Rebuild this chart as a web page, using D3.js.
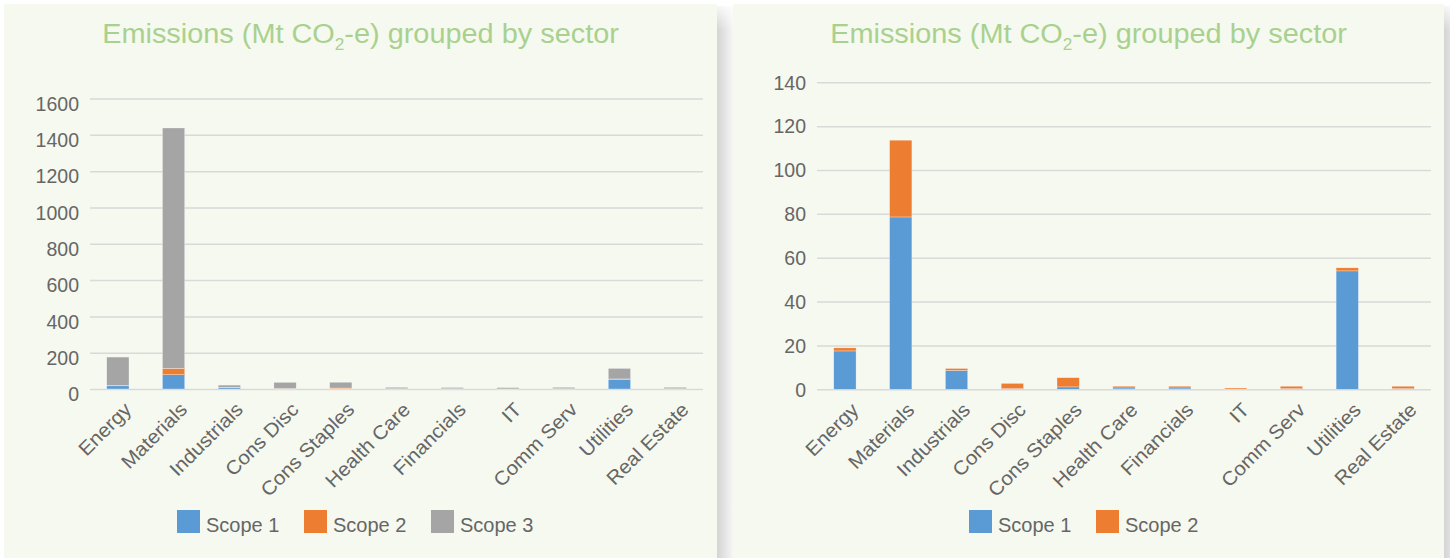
<!DOCTYPE html>
<html>
<head>
<meta charset="utf-8">
<script src="https://cdn.jsdelivr.net/npm/d3@7"></script>
<style>
  html, body { margin: 0; padding: 0; background: #ffffff; }
  svg { display: block; }
  text { font-family: "Liberation Sans", Arial, Helvetica, sans-serif; }
</style>
</head>
<body>
<svg id="chart" width="1450" height="558"></svg>
<script>
// ---------- DATA ----------
const sectors = ["Energy", "Materials", "Industrials", "Cons Disc", "Cons Staples", "Health Care", "Financials", "IT", "Comm Serv", "Utilities", "Real Estate"];
const scope1 = [17.5, 78.6, 8.6, 0.3, 1.1, 0.6, 0.6, 0.1, 0.3, 54, 0.3];
const scope2 = [1.4, 35, 0.9, 2.4, 4.2, 0.8, 0.8, 0.5, 1.1, 1.4, 1.1];
const scope3 = [157, 1324, 12, 34, 32, 8, 7, 7, 8, 58, 8];
const leftTicks = [0, 200, 400, 600, 800, 1000, 1200, 1400, 1600];
const rightTicks = [0, 20, 40, 60, 80, 100, 120, 140];
const seriesNames = ["Scope 1", "Scope 2", "Scope 3"];
const seriesColors = ["#5b9bd5", "#ed7d31", "#a5a5a5"];

// ---------- SETUP ----------
const svg = d3.select("#chart");
const panelFill = "#f6f9ef";
const textGray = "#666666";
const gridColor = "#d9d9d9";
const titleColor = "#a9d18e";

const defs = svg.append("defs");
const g1 = defs.append("linearGradient").attr("id", "shadowGrad").attr("x1", 0).attr("x2", 1).attr("y1", 0).attr("y2", 0);
g1.append("stop").attr("offset", "0%").attr("stop-color", "#d4d4d4");
g1.append("stop").attr("offset", "55%").attr("stop-color", "#e6e6e6");
g1.append("stop").attr("offset", "100%").attr("stop-color", "#f6f6f6");
const g2 = defs.append("linearGradient").attr("id", "shadowTop").attr("x1", 0).attr("x2", 0).attr("y1", 0).attr("y2", 1);
g2.append("stop").attr("offset", "0%").attr("stop-color", "#ffffff").attr("stop-opacity", 1);
g2.append("stop").attr("offset", "100%").attr("stop-color", "#ffffff").attr("stop-opacity", 0);

function drawPanel(x0, x1) {
  svg.append("rect").attr("x", x1).attr("y", 6).attr("width", 16).attr("height", 552).attr("fill", "url(#shadowGrad)");
  svg.append("rect").attr("x", x1).attr("y", 0).attr("width", 16).attr("height", 30).attr("fill", "url(#shadowTop)");
  svg.append("rect").attr("x", x0).attr("y", 4).attr("width", x1 - x0).attr("height", 554).attr("fill", panelFill);
}

function drawChart(opts) {
  const { x0, x1, plotL, plotR, yTop, yBottom, ticks, series, legendStart, labelShift } = opts;
  drawPanel(x0, x1);
  const g = svg.append("g");

  // title
  const cx = (x0 + x1) / 2;
  const title = g.append("text").attr("text-anchor", "middle")
    .attr("transform", `translate(${cx},43) scale(1.07,1)`)
    .attr("fill", titleColor).style("font-size", "27px");
  title.append("tspan").text("Emissions (Mt CO");
  title.append("tspan").text("2").style("font-size", "16px").attr("dy", 7);
  title.append("tspan").text("-e) grouped by sector").attr("dy", -7);

  const x = d3.scaleBand().domain(sectors).range([plotL, plotR]).paddingInner(0.6).paddingOuter(0.3);
  const y = d3.scaleLinear().domain([0, d3.max(ticks)]).range([yBottom, yTop]);

  // gridlines + y labels via axis
  const yAxis = d3.axisLeft(y).tickValues(ticks).tickSize(-(plotR - plotL)).tickPadding(11).tickFormat(d3.format("d"));
  const ya = g.append("g").attr("transform", `translate(${plotL},0)`).call(yAxis);
  ya.select(".domain").remove();
  ya.selectAll(".tick line").attr("stroke", gridColor).attr("stroke-width", 1.5);
  ya.selectAll(".tick text").attr("fill", textGray).style("font-size", "19.5px")
    .attr("dy", "0.35em").attr("y", labelShift);

  // stacked data
  const rows = sectors.map((s, i) => {
    const r = { sector: s };
    series.forEach((arr, k) => { r[seriesNames[k]] = arr[i]; });
    return r;
  });
  const keys = seriesNames.slice(0, series.length);
  const stacked = d3.stack().keys(keys)(rows);

  g.append("g").selectAll("g").data(stacked).join("g")
    .attr("fill", (d, i) => seriesColors[i])
    .selectAll("rect").data(d => d).join("rect")
    .attr("x", d => x(d.data.sector))
    .attr("width", x.bandwidth())
    .attr("y", d => y(d[1]))
    .attr("height", d => Math.max(0, y(d[0]) - y(d[1])))
    .attr("stroke", "#ffffff").attr("stroke-width", 0.5).attr("stroke-opacity", 0.6);

  // x labels
  const xa = g.append("g").attr("transform", `translate(0,${yBottom})`)
    .call(d3.axisBottom(x).tickSize(0).tickPadding(0));
  xa.select(".domain").remove();
  xa.selectAll(".tick text")
    .attr("fill", textGray).style("font-size", "19.5px")
    .attr("text-anchor", "end")
    .attr("x", 0).attr("y", 0).attr("dy", "0.71em")
    .attr("transform", "translate(5,12) rotate(-45) scale(1.06,1)");

  // legend
  const lg = g.append("g");
  let lx = legendStart;
  keys.forEach((k, i) => {
    lg.append("rect").attr("x", lx).attr("y", 510).attr("width", 23).attr("height", 23).attr("fill", seriesColors[i]);
    lg.append("text").attr("x", lx + 29).attr("y", 532).attr("fill", textGray).style("font-size", "20px").text(k);
    lx += 127;
  });
}

drawChart({ x0: 4, x1: 717, plotL: 90, plotR: 703, yTop: 98.5, yBottom: 389, ticks: leftTicks,
  series: [scope1, scope2, scope3], legendStart: 177, labelShift: 5 });
drawChart({ x0: 733, x1: 1444, plotL: 817, plotR: 1431, yTop: 82.3, yBottom: 389.3, ticks: rightTicks,
  series: [scope1, scope2], legendStart: 969, labelShift: 0 });
</script>
</body>
</html>
